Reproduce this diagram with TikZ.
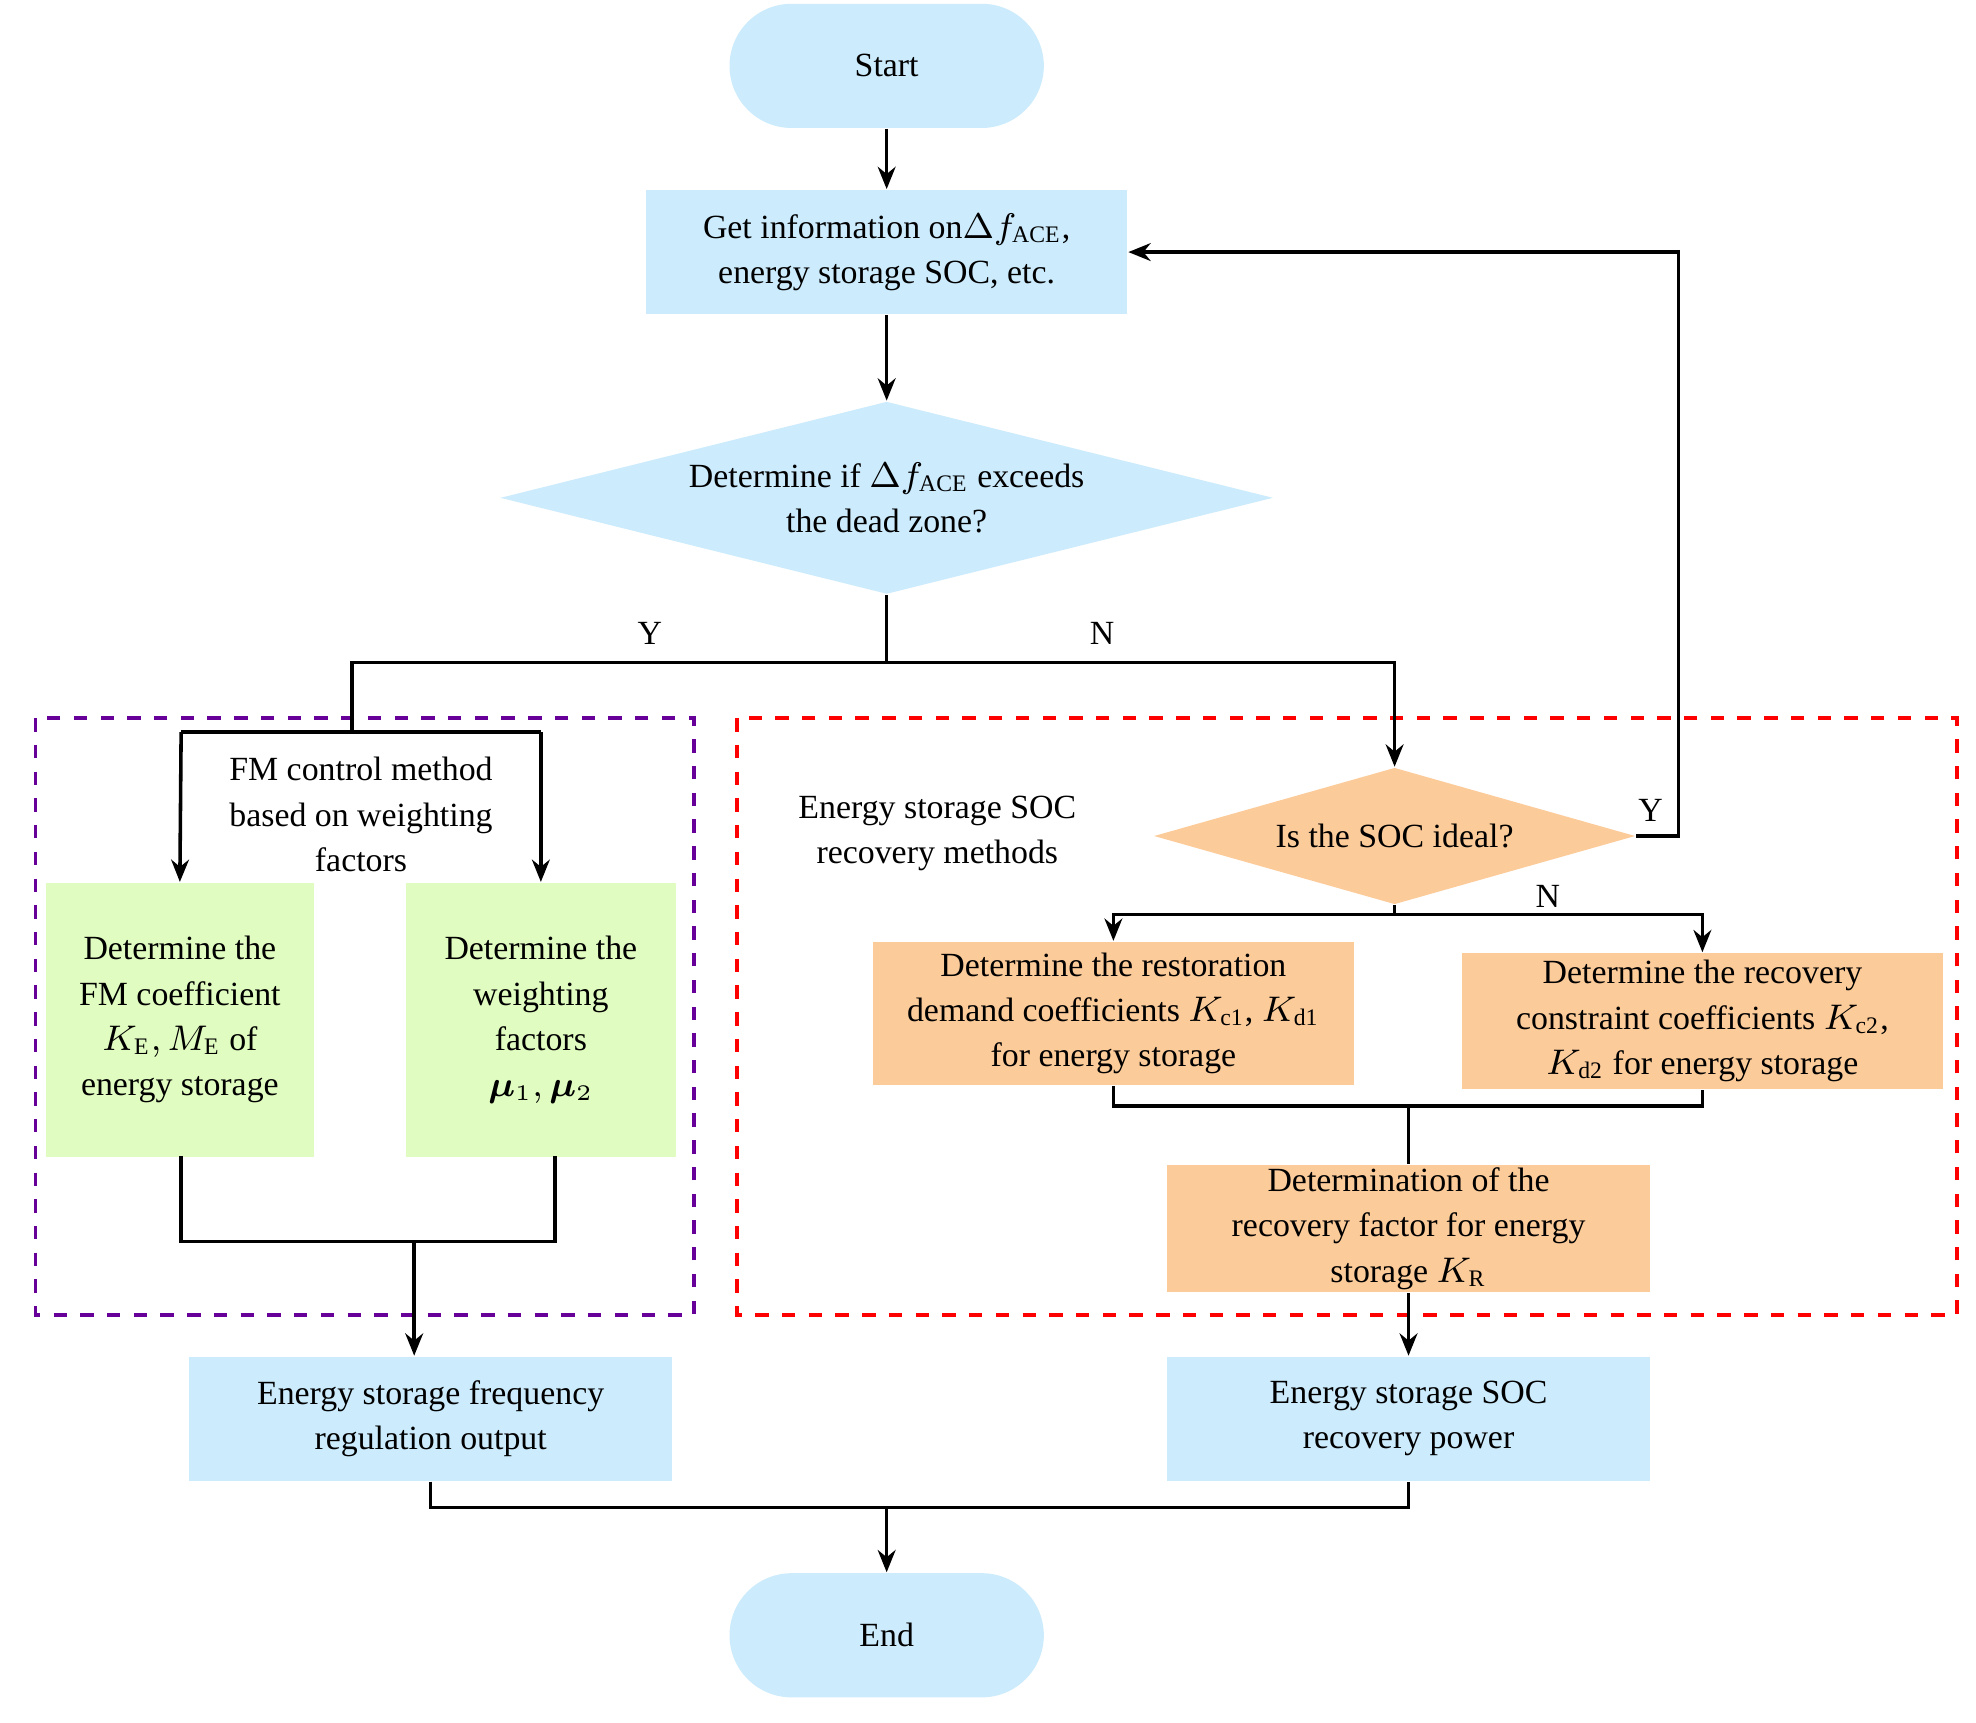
\documentclass[tikz,border=0pt]{standalone}
\usepackage{amsmath,amssymb,bm}
\usepackage{fontspec}
\setmainfont{Liberation Serif}
\usetikzlibrary{shapes.geometric,arrows.meta}
\definecolor{lblue}{RGB}{204,235,252}
\definecolor{lgreen}{RGB}{224,252,192}
\definecolor{lorange}{RGB}{252,203,154}
\begin{document}
\begin{tikzpicture}[x=0.01cm,y=-0.01cm,
  every node/.style={font=\fontsize{7.6}{10.2}\selectfont,align=center,inner sep=0pt},
  term/.style={rectangle,rounded corners=0.49cm,fill=lblue,minimum width=2.48cm,minimum height=0.98cm},
  arr/.style={-{Stealth[length=5pt,width=4pt]},thick},
  ln/.style={thick}]
\useasboundingbox (0,0) rectangle (1560,1360);
\node[term] (start) at (700,52) {Start};
\node[fill=lblue,minimum width=3.8cm,minimum height=0.98cm] (info) at (700,199) {Get information on$\Delta f_{\mathrm{ACE}}$,\\energy storage SOC, etc.};
\node[diamond,aspect=4,fill=lblue,minimum width=6.1cm,minimum height=1.52cm,inner sep=0pt] (d1) at (700,393) {};
\node at (700,393) {Determine if $\Delta f_{\mathrm{ACE}}$ exceeds\\the dead zone?};
\node at (513,500) {Y};
\node at (870,500) {N};
\draw[dashed,thick,violet!80!blue] (28,567) rectangle (548,1038);
\draw[dashed,thick,red] (582,567) rectangle (1545,1038);
\node at (285,643) {FM control method\\based on weighting\\factors};
\node[fill=lgreen,minimum width=2.12cm,minimum height=2.16cm] (g1) at (142,805) {Determine the\\FM coefficient\\$K_{\mathrm{E}}, M_{\mathrm{E}}$ of\\energy storage};
\node[fill=lgreen,minimum width=2.13cm,minimum height=2.16cm] (g2) at (427,805) {Determine the\\weighting\\factors\\$\bm{\mu}_1,\bm{\mu}_2$};
\node[fill=lblue,minimum width=3.81cm,minimum height=0.98cm] (o1) at (340,1120) {Energy storage frequency\\regulation output};
\node at (740,658) {Energy storage SOC\\recovery methods};
\node[diamond,aspect=3.5,fill=lorange,minimum width=3.8cm,minimum height=1.08cm] (d2) at (1101,660) {};
\node at (1101,660) {Is the SOC ideal?};
\node at (1303,640) {Y};
\node at (1222,708) {N};
\node[fill=lorange,minimum width=3.79cm,minimum height=1.13cm] (r1) at (879,800) {Determine the restoration\\demand coefficients $K_{\mathrm{c1}}$, $K_{\mathrm{d1}}$\\for energy storage};
\node[fill=lorange,minimum width=3.8cm,minimum height=1.07cm] (r2) at (1344,806) {Determine the recovery\\constraint coefficients $K_{\mathrm{c2}}$,\\$K_{\mathrm{d2}}$ for energy storage};
\node[fill=lorange,minimum width=3.81cm,minimum height=1.0cm] (kr) at (1112,970) {Determination of the\\recovery factor for energy\\storage $K_{\mathrm{R}}$};
\node[fill=lblue,minimum width=3.81cm,minimum height=0.98cm] (o2) at (1112,1120) {Energy storage SOC\\recovery power};
\node[term] (end) at (700,1291) {End};
% connectors
\draw[arr] (start) -- (info);
\draw[arr] (info) -- (d1);
\coordinate (j1) at (700,523);
\coordinate (j2) at (327,980);
\draw[ln] (d1.south) -- (j1);
\draw[ln] (j1) -- (278,523) -- (278,578);
\draw[arr] (143,578) -- (g1.north);
\draw[arr] (427,578) -- (g2.north);
\draw[ln] (143,578) -- (427,578);
\draw[arr] (j1) -- (1101,523) -- (d2.north);
\draw[arr] (d2.east) -- (1325,660) -- (1325,199) -- (info.east);
\draw[ln] (d2.south) -- (1101,722);
\draw[arr] (1101,722) -- (879,722) -- (r1.north);
\draw[arr] (1101,722) -- (1344,722) -- (r2.north);
\draw[ln] (r1.south) -- (879,873) -- (1344,873) -- (r2.south);
\draw[ln] (1112,873) -- (kr.north);
\draw[arr] (kr) -- (o2);
\draw[ln] (143,913) -- (143,980) -- (438,980) -- (438,913);
\draw[arr] (j2) -- (j2 |- o1.north);
\draw[ln] (o1.south) -- (340,1190) -- (1112,1190) -- (o2.south);
\draw[arr] (700,1190) -- (end.north);
\end{tikzpicture}
\end{document}
